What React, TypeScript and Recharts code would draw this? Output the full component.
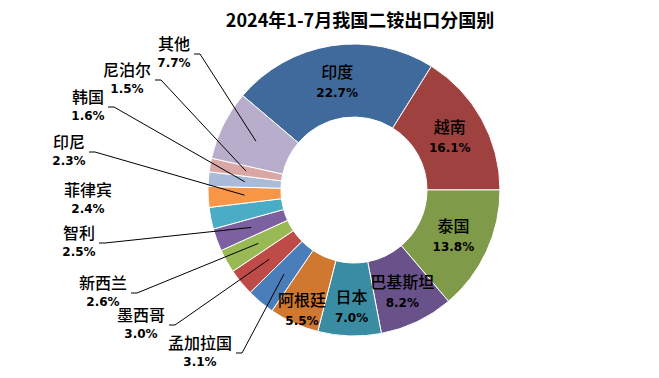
import { PieChart, Pie, Cell } from 'recharts';

const countries = ['印度', '越南', '泰国', '巴基斯坦', '日本', '阿根廷', '孟加拉国', '墨西哥', '新西兰', '智利', '菲律宾', '印尼', '韩国', '尼泊尔', '其他'];
const shares = [22.7, 16.1, 13.8, 8.2, 7.0, 5.5, 3.1, 3.0, 2.6, 2.5, 2.4, 2.3, 1.6, 1.5, 7.7];

const colors = [
  '#416a9c', '#9f413f', '#7f9a48', '#69518a', '#3a8ca2', '#d0782f',
  '#4a7ebb', '#be4b48', '#98b954', '#7d60a0', '#4bacc6', '#f79646',
  '#a9bbd9', '#d9a7a6', '#b8aecb',
];

// label layout: inside labels get a nudge, outside labels a fixed spot + leader line
const insideNudge: Record<string, [number, number]> = {
  '印度': [0, 0], '越南': [0, 0], '泰国': [0, 0], '巴基斯坦': [1, 3], '日本': [1, 8], '阿根廷': [-7, 20],
};
const outsideSpot: Record<string, [number, number, boolean]> = {
  '孟加拉国': [200, 353, true],
  '墨西哥': [141, 325, true],
  '新西兰': [103, 293, true],
  '智利': [79, 243, true],
  '菲律宾': [88, 200, false],
  '印尼': [69, 152, true],
  '韩国': [88, 107, true],
  '尼泊尔': [127, 80, true],
  '其他': [174, 54, true],
};

const data = countries.map((name, i) => ({ name, value: shares[i] }));
const RAD = Math.PI / 180;

const nameStyle = { fontFamily: '"Noto Sans CJK SC", sans-serif', fontSize: 16, fontWeight: 500, fill: '#000' };
const pctStyle = { fontFamily: '"DejaVu Sans", sans-serif', fontSize: 12, fontWeight: 700, fill: '#000' };

function renderLabel(props: any) {
  const { cx, cy, midAngle, innerRadius, outerRadius, name, value } = props;
  const r = (innerRadius + outerRadius) / 2;
  const mx = cx + r * Math.cos(-midAngle * RAD);
  const my = cy + r * Math.sin(-midAngle * RAD);
  const pct = `${value.toFixed(1)}%`;

  if (insideNudge[name]) {
    const [dx, dy] = insideNudge[name];
    const x = mx + dx;
    const y = my + dy;
    return (
      <g>
        <text x={x} y={y - 4} textAnchor="middle" style={nameStyle}>{name}</text>
        <text x={x} y={y + 15} textAnchor="middle" style={pctStyle}>{pct}</text>
      </g>
    );
  }

  const [lx, ly, line] = outsideSpot[name];
  const sx = lx + (name.length * 16) / 2 + 4;
  return (
    <g>
      {line && (
        <polyline
          points={`${sx},${ly} ${sx + 6},${ly} ${mx},${my}`}
          fill="none"
          stroke="#000"
          strokeWidth={1}
        />
      )}
      <text x={lx} y={ly - 4} textAnchor="middle" style={nameStyle}>{name}</text>
      <text x={lx} y={ly + 13} textAnchor="middle" style={pctStyle}>{pct}</text>
    </g>
  );
}

export default function App() {
  return (
    <div style={{ position: 'absolute', left: 0, top: 0, width: 659, height: 378, background: '#fff' }}>
      <PieChart width={659} height={378} margin={{ top: 0, right: 0, bottom: 0, left: 0 }}>
        <text
          x={360}
          y={27}
          textAnchor="middle"
          style={{ fontFamily: '"Noto Sans CJK SC", sans-serif', fontSize: 18, fontWeight: 700, fill: '#000' }}
        >
          2024年1-7月我国二铵出口分国别
        </text>
        <Pie
          data={data}
          dataKey="value"
          nameKey="name"
          cx={354}
          cy={190}
          innerRadius={73}
          outerRadius={146}
          startAngle={139.7}
          endAngle={-220.3}
          stroke="#fff"
          strokeWidth={1}
          label={renderLabel}
          labelLine={false}
          isAnimationActive={false}
        >
          {data.map((d, i) => (
            <Cell key={d.name} fill={colors[i]} />
          ))}
        </Pie>
      </PieChart>
    </div>
  );
}
